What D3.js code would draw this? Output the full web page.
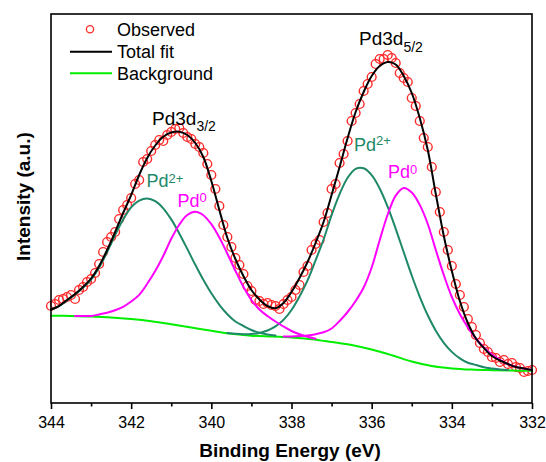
<!DOCTYPE html>
<html><head><meta charset="utf-8">
<script src="https://cdn.jsdelivr.net/npm/d3@7"></script>
<style>
body{margin:0;background:#fff}
svg{display:block}
text{font-family:"Liberation Sans",Arial,sans-serif;fill:#000}
</style>
</head><body>
<svg id="chart" width="546" height="462"></svg>
<script>
// ---- data (binding energy eV, intensity a.u.) ----
const xTicks = [344,342,340,338,336,334,332];
const xMinorTicks = [343,341,339,337,335,333];

const observed = [[344.0,97],[343.9,99],[343.8,103],[343.7,104],[343.6,106],[343.5,108],[343.4,104],[343.3,113],[343.2,116],[343.1,121],[343.0,124],[342.9,130],[342.8,139],[342.7,151],[342.6,161],[342.5,166],[342.4,171],[342.3,184],[342.2,193],[342.1,198],[342.0,205],[341.9,219],[341.8,223],[341.7,241],[341.6,244],[341.5,252],[341.4,258],[341.3,263],[341.2,262],[341.1,268],[341.0,271],[340.9,274],[340.8,275],[340.7,270],[340.6,266],[340.5,264],[340.4,259],[340.3,256],[340.2,250],[340.1,239],[340.0,228],[339.9,214],[339.8,197],[339.7,178],[339.6,166],[339.5,156],[339.4,145],[339.3,138],[339.2,129],[339.1,117],[339.0,112],[338.9,103],[338.8,102],[338.7,99],[338.6,100],[338.5,98],[338.4,97],[338.3,94],[338.2,99],[338.1,103],[338.0,106],[337.9,113],[337.8,118],[337.7,131],[337.6,137],[337.5,153],[337.4,159],[337.3,163],[337.2,181],[337.1,190],[337.0,214],[336.9,219],[336.8,240],[336.7,249],[336.6,262],[336.5,282],[336.4,290],[336.3,299],[336.2,312],[336.1,319],[336.0,326],[335.9,339],[335.8,344],[335.7,344],[335.6,348],[335.5,345],[335.4,340],[335.3,330],[335.2,325],[335.1,321],[335.0,305],[334.9,297],[334.8,282],[334.7,265],[334.6,256],[334.5,236],[334.4,211],[334.3,191],[334.2,171],[334.1,153],[334.0,137],[333.9,119],[333.8,108],[333.7,96],[333.6,84],[333.5,76],[333.4,68],[333.3,60],[333.2,54],[333.1,51],[333.0,46],[332.9,45],[332.8,41],[332.7,43],[332.6,39],[332.5,40],[332.4,36],[332.3,35],[332.2,31],[332.1,32],[332.0,33]];

const totalFit = [[344.0,93.5],[343.8,97],[343.6,103],[343.4,109],[343.2,116],[343.0,124.5],[342.8,137],[342.6,153],[342.4,171],[342.2,190],[342.0,208],[341.8,228],[341.6,245],[341.4,257.5],[341.2,266.3],[341.0,270.5],[340.8,271.3],[340.6,268],[340.4,260],[340.2,246],[340.0,222],[339.8,193],[339.6,165],[339.4,144],[339.2,127],[339.0,113],[338.8,103.5],[338.6,97],[338.4,94.7],[338.2,100],[338.0,111],[337.8,125],[337.6,141],[337.4,160],[337.2,181],[337.0,208],[336.8,236],[336.6,265],[336.4,291],[336.2,311],[336.0,327],[335.8,337],[335.6,341],[335.4,338.5],[335.2,327],[335.0,310],[334.8,285],[334.6,253],[334.4,209],[334.2,167],[334.0,132],[333.8,102],[333.6,80],[333.4,64.5],[333.2,55],[333.0,47],[332.8,42.5],[332.6,39],[332.4,36],[332.2,34.5],[332.0,33]];

const background = [[344.0,87.3],[343.5,87.0],[343.0,86.5],[342.5,85.6],[342.0,84.0],[341.5,81.8],[341.0,78.8],[340.5,75.5],[340.0,72.2],[339.5,69.2],[339.0,67.3],[338.5,66.4],[338.0,65.6],[337.5,63.8],[337.0,61.0],[336.5,58.0],[336.0,53.5],[335.5,47.8],[335.0,41.5],[334.5,37.0],[334.0,34.6],[333.5,33.4],[333.0,32.8],[332.5,32.4],[332.0,32.2]];

const pd2plus32 = [[344.0,93.3],[343.8,96.8],[343.6,102.5],[343.4,108.5],[343.2,115.5],[343.0,123.5],[342.8,135.5],[342.6,151],[342.4,168],[342.2,183.5],[342.0,195.7],[341.8,202.4],[341.6,204.6],[341.4,201.8],[341.2,194.7],[341.0,183.6],[340.8,169.6],[340.6,154.1],[340.4,138.2],[340.2,123.2],[340.0,109.7],[339.8,98.2],[339.6,88.8],[339.4,81.5],[339.2,77],[339.0,73],[338.8,70.3],[338.6,68.6],[338.4,67.4]];

const pd0_32 = [[343.4,87.0],[343.2,86.9],[343.0,87.1],[342.8,88.6],[342.6,90.3],[342.4,92.8],[342.2,96.2],[342.0,101.5],[341.8,108.1],[341.6,119.2],[341.4,131.9],[341.2,147.0],[341.0,164.2],[340.8,178.3],[340.6,188.0],[340.4,191.3],[340.2,187.8],[340.0,178.8],[339.8,165.5],[339.6,149.3],[339.4,132.3],[339.2,116.2],[339.0,103],[338.8,93.5],[338.6,87],[338.4,81.5],[338.2,76.5],[338.0,72],[337.8,68.8],[337.6,66.3],[337.4,64.3]];

const pd2plus52 = [[339.6,70.0],[339.4,69.2],[339.2,68.8],[339.0,69.0],[338.8,70.1],[338.6,72.5],[338.4,76.6],[338.2,83.1],[338.0,93],[337.8,106.5],[337.6,122.6],[337.4,142.6],[337.2,163.5],[337.0,187.9],[336.8,208.9],[336.6,225.2],[336.4,234.2],[336.2,234.7],[336.0,227.8],[335.8,214.5],[335.6,196.1],[335.4,174.2],[335.2,150.8],[335.0,127.5],[334.8,106.2],[334.6,87.7],[334.4,72.3],[334.2,60.2],[334.0,51.1],[333.8,44.6],[333.6,40.2],[333.4,38],[333.2,35.8],[333.0,34.6],[332.8,33.6],[332.6,33.0]];

const pd0_52 = [[338.2,66.4],[338.0,66.6],[337.8,67.0],[337.6,67.6],[337.4,68.8],[337.2,70.7],[337.0,74.5],[336.8,82],[336.6,91],[336.4,102],[336.2,115.5],[336.0,135.5],[335.8,162.8],[335.6,188.5],[335.4,207.4],[335.2,215.0],[335.0,210.5],[334.8,198.1],[334.6,179.0],[334.4,153],[334.2,128],[334.0,106],[333.8,89],[333.6,75.5],[333.4,64.5],[333.2,55.5],[333.0,48.5],[332.8,43.2],[332.6,39],[332.4,36],[332.2,34.2],[332.0,33]];

const legendItems = ["Observed","Total fit","Background"];

// ---- drawing ----
const svg = d3.select("#chart");
const L = 51, R = 532, T = 14, B = 403;
const xs = d3.scaleLinear().domain([344,332]).range([L,R]);
const ys = d3.scaleLinear().domain([0,389]).range([B,T]);

const teal = "#1e8868", magenta = "#ff00ff", green = "#00ee00", red = "#ff2a2a";

const line = d3.line().x(d=>xs(d[0])).y(d=>ys(d[1])).curve(d3.curveCatmullRom);

// observed circles
svg.append("g").selectAll("circle").data(observed).join("circle")
  .attr("cx", d=>xs(d[0])).attr("cy", d=>ys(d[1])).attr("r", 4.4)
  .attr("fill","none").attr("stroke", red).attr("stroke-width", 1.4);

function drawCurve(data, color, w){
  svg.append("path").datum(data).attr("d", line)
    .attr("fill","none").attr("stroke",color).attr("stroke-width",w)
    .attr("stroke-linejoin","round").attr("stroke-linecap","round");
}
drawCurve(background, green, 2);
drawCurve(pd2plus32, teal, 2);
drawCurve(pd2plus52, teal, 2);
drawCurve(pd0_32, magenta, 2);
drawCurve(pd0_52, magenta, 2);
drawCurve(totalFit, "#000", 2);

// frame
svg.append("rect").attr("x",L).attr("y",T).attr("width",R-L).attr("height",B-T)
  .attr("fill","none").attr("stroke","#000").attr("stroke-width",1.6);

// axis
const ax = svg.append("g").attr("transform",`translate(0,${B})`)
  .call(d3.axisBottom(xs).tickValues(xTicks).tickSize(6).tickSizeOuter(0).tickPadding(7.5).tickFormat(d3.format("d")));
ax.select(".domain").remove();
ax.selectAll("line").attr("stroke","#000").attr("stroke-width",1.6);
ax.selectAll("text").attr("font-size",16).attr("font-family","Liberation Sans, Arial, sans-serif").attr("fill","#000");
const axm = svg.append("g").attr("transform",`translate(0,${B})`)
  .call(d3.axisBottom(xs).tickValues(xMinorTicks).tickSize(3.5).tickSizeOuter(0).tickFormat(""));
axm.select(".domain").remove();
axm.selectAll("line").attr("stroke","#000").attr("stroke-width",1.6);

// axis titles
svg.append("text").attr("x",290).attr("y",457).attr("text-anchor","middle")
  .attr("font-size",19).attr("font-weight","bold").text("Binding Energy (eV)");
svg.append("text").attr("transform","translate(30,261) rotate(-90)").attr("text-anchor","start")
  .attr("font-size",19).attr("font-weight","bold").text("Intensity (a.u.)");

// legend
const lg = svg.append("g");
lg.append("circle").attr("cx",90).attr("cy",29.3).attr("r",3.6).attr("fill","none").attr("stroke",red).attr("stroke-width",1.3);
lg.append("line").attr("x1",70).attr("x2",112).attr("y1",51.7).attr("y2",51.7).attr("stroke","#000").attr("stroke-width",2);
lg.append("line").attr("x1",70).attr("x2",112).attr("y1",73.3).attr("y2",73.3).attr("stroke",green).attr("stroke-width",2);
legendItems.forEach((t,i)=>{
  lg.append("text").attr("x",117).attr("y",[35.8,58,80][i]).attr("font-size",18).text(t);
});

// peak labels
function label(x, y, main, small, dy, color, size, ssize){
  const t = svg.append("text").attr("x",x).attr("y",y).attr("font-size",size).style("fill",color);
  t.append("tspan").text(main);
  t.append("tspan").attr("dy",dy).attr("font-size",ssize).text(small);
}
label(152,125,"Pd3d","3/2",6,"#000",19,14);
label(359,45,"Pd3d","5/2",6.5,"#000",19,14);
label(146.5,187,"Pd","2+",-4.5,teal,18,13);
label(177.5,206.7,"Pd","0",-5,magenta,18,13);
label(354,150.7,"Pd","2+",-5.5,teal,18,13);
label(388,178.3,"Pd","0",-4.5,magenta,18,13);
</script>
</body></html>
